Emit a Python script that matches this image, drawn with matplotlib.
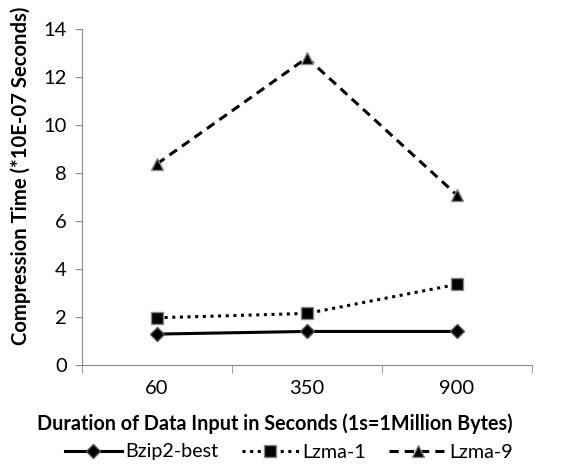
import matplotlib
matplotlib.use("Agg")
import matplotlib.pyplot as plt
from matplotlib.ticker import FixedLocator

plt.rcParams['font.family'] = ['Lato', 'DejaVu Sans']

categories = ["60", "350", "900"]
bzip2_best = [1.29, 1.40, 1.40]
lzma_1 = [1.97, 2.15, 3.36]
lzma_9 = [8.38, 12.8, 7.08]

fig = plt.figure(figsize=(5.67, 4.68), dpi=100)
ax = fig.add_axes([0.1446, 0.22, 0.7936, 0.718])
x = list(range(len(categories)))

ax.plot(x, bzip2_best, color='black', linestyle='-', linewidth=2.2, marker='D',
        markersize=7, markerfacecolor='black', markeredgecolor='#555555', markeredgewidth=1, label='Bzip2-best')
ax.plot(x, lzma_1, color='black', linestyle=(0, (1, 1.5)), linewidth=2.2, marker='s',
        markersize=8, markerfacecolor='black', markeredgecolor='#888888', markeredgewidth=1, label='Lzma-1')
ax.plot(x, lzma_9, color='black', linestyle=(0, (3, 2)), linewidth=2.2, marker='^',
        markersize=8, markerfacecolor='black', markeredgecolor='#888888', markeredgewidth=1, label='Lzma-9')

ax.set_xlim(-0.5, 2.5)
ax.set_ylim(0, 14)
ax.set_yticks(range(0, 15, 2))
ax.set_xticks(x)
ax.set_xticklabels(categories)
ax.xaxis.set_minor_locator(FixedLocator([-0.5, 0.5, 1.5, 2.5]))
ax.tick_params(axis='x', which='major', length=0, labelsize=14.5, pad=11)
ax.tick_params(axis='x', which='minor', length=6, color='#888888', direction='out')
ax.tick_params(axis='y', length=5, color='#888888', labelsize=14.5, direction='out', pad=6)

for s in ['top', 'right']:
    ax.spines[s].set_visible(False)
for s in ['left', 'bottom']:
    ax.spines[s].set_color('#888888')

fig.text(275 / 567, 1 - 424 / 468, 'Duration of Data Input in Seconds (1s=1Million Bytes)',
         fontsize=14.2, fontweight='bold', ha='center', va='center')
fig.text(21 / 567, 1 - 176 / 468, 'Compression Time (*10E-07 Seconds)',
         fontsize=14.6, fontweight='bold', ha='center', va='center', rotation=90)

handles, labels = ax.get_legend_handles_labels()
fig.legend(handles, labels, loc='center', bbox_to_anchor=(289 / 567, 1 - 452 / 468), ncol=3,
           frameon=False, fontsize=14.2, handlelength=2.9, columnspacing=1.2,
           handletextpad=0.15, borderpad=0, borderaxespad=0)

fig.savefig('out.png', dpi=100)
